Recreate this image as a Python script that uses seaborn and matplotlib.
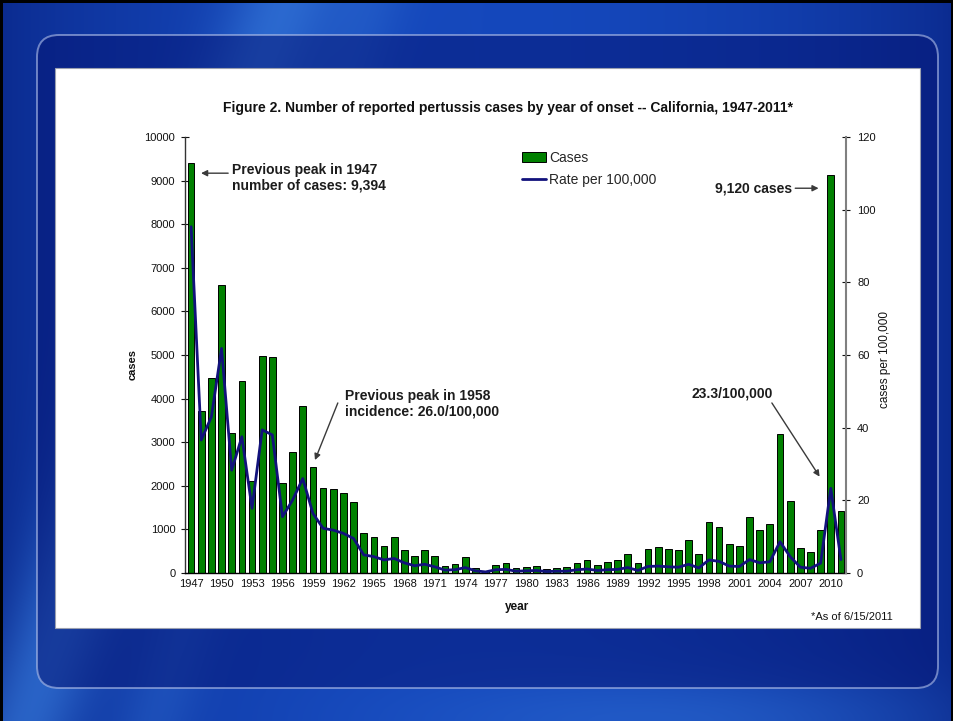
import numpy as np
import pandas as pd
import matplotlib
matplotlib.use("Agg")
import matplotlib.pyplot as plt
import seaborn as sns
from matplotlib.patches import FancyBboxPatch, Rectangle, Patch
from matplotlib.lines import Line2D
from matplotlib.colors import to_rgb

# ---- data -----------------------------------------------------------------
years = list(range(1947, 2012))
cases = [
    9394, 3720, 4480, 6600, 3200, 4400, 2100, 4970, 4950, 2060,   # 1947-1956
    2780, 3830, 2440, 1950, 1920, 1840, 1620, 910, 830, 630,      # 1957-1966
    830, 525, 380, 530, 385, 165, 200, 360, 115, 55,              # 1967-1976
    190, 230, 110, 145, 170, 85, 115, 140, 225, 300,              # 1977-1986
    188, 252, 300, 445, 222, 548, 604, 550, 520, 765,             # 1987-1996
    445, 1177, 1062, 657, 627, 1292, 986, 1124, 3188, 1651,       # 1997-2006
    581, 489, 986, 9120, 1430,                                    # 2007-2011
]
rate = [
    95.3, 36.6, 43.0, 61.8, 28.3, 37.5, 17.8, 39.4, 38.0, 15.5,
    20.1, 26.0, 16.4, 12.3, 11.8, 10.9, 9.5, 5.0, 4.5, 3.6,
    4.0, 2.8, 2.0, 2.4, 1.7, 0.8, 0.9, 1.5, 0.6, 0.3,
    0.9, 1.0, 0.5, 0.6, 0.7, 0.4, 0.5, 0.5, 0.9, 1.1,
    0.7, 0.9, 1.0, 1.5, 0.7, 1.8, 1.9, 1.7, 1.6, 2.4,
    1.4, 3.6, 3.2, 1.9, 1.8, 3.7, 2.8, 3.1, 8.6, 4.5,
    1.6, 1.3, 2.7, 23.3, 3.7,
]
year_ticks = list(range(1947, 2011, 3))
case_ticks = list(range(0, 10001, 1000))
rate_ticks = list(range(0, 121, 20))

df = pd.DataFrame({"year": years, "cases": cases, "rate": rate})

sns.set_theme(style="white")
plt.rcParams["font.family"] = ["Liberation Sans", "DejaVu Sans"]

W, H = 954, 721
fig = plt.figure(figsize=(W / 100, H / 100), dpi=100)

# ---- slide background --------------------------------------------------------
bg = fig.add_axes([0, 0, 1, 1])
bg.set_xlim(0, W)
bg.set_ylim(H, 0)
bg.axis("off")

yy, xx = np.mgrid[0:H, 0:W].astype(float)
dark = np.array(to_rgb("#0b2a8e"))
mid = np.array(to_rgb("#1548bc"))
light = np.array(to_rgb("#3578da"))
w_mid = np.sin(np.pi * xx / W) ** 0.7
base = dark + (mid - dark) * w_mid[..., None]
d1 = xx - (285 - 0.36 * yy)
d2 = xx - (370 - 0.30 * yy)
glow = (0.7 * np.exp(-(d1 / 55) ** 2) + 0.3 * np.exp(-(d2 / 40) ** 2)
        + 0.4 * np.exp(-((yy - H) / 45) ** 2) * np.exp(-((xx - 680) / 260) ** 2))
glow = np.clip(glow, 0, 1)[..., None]
img = base + (light - base) * glow
bg.imshow(img, extent=(0, W, H, 0), aspect="auto", zorder=0, interpolation="bilinear")

for r in [(0, 0, W, 3), (0, 0, 3, H), (W - 3, 0, 3, H)]:
    bg.add_patch(Rectangle(r[:2], r[2], r[3], fc="black", ec="none", zorder=1))

bg.add_patch(FancyBboxPatch((37, 35), 901, 653,
                            boxstyle="round,pad=0,rounding_size=22",
                            fc=(0.02, 0.08, 0.45, 0.5),
                            ec=(0.70, 0.76, 0.92, 0.6), lw=1.4, zorder=2))
bg.add_patch(Rectangle((55, 68), 865, 560, fc="white", ec="#9aa0b0", lw=0.8, zorder=3))

# ---- chart -------------------------------------------------------------------
ax = fig.add_axes([185 / W, (H - 573) / H, (846 - 185) / W, (573 - 137) / H])
ax.set_facecolor("white")
sns.barplot(data=df, x="year", y="cases", native_scale=True, color="#008000",
            saturation=1, edgecolor="black", linewidth=0.7, width=0.66, ax=ax)
ax.set_xlim(1946.4, 2011.5)
ax.set_ylim(0, 10000)
ax.set_xticks(year_ticks)
ax.set_xticklabels([str(y) for y in year_ticks])
ax.set_yticks(case_ticks)
ax.set_yticklabels([str(v) for v in case_ticks])
ax.tick_params(axis="x", length=0, pad=4, labelsize=8, colors="#111111")
ax.tick_params(axis="y", left=True, direction="inout", length=6, width=0.8,
               pad=4, labelsize=8, colors="#111111")
ax.set_xlabel("")
ax.set_ylabel("")
for s in ("top", "right"):
    ax.spines[s].set_visible(False)
ax.spines["left"].set_color("#333333")
ax.spines["bottom"].set_color("black")
ax.spines["left"].set_linewidth(1.0)
ax.spines["bottom"].set_linewidth(1.0)

ax2 = ax.twinx()
sns.lineplot(data=df, x="year", y="rate", ax=ax2, color="#12127c", lw=2)
ax2.set_ylim(0, 120)
ax2.set_xlim(1946.4, 2011.5)
ax2.set_yticks(rate_ticks)
ax2.set_yticklabels([str(v) for v in rate_ticks])
ax2.tick_params(axis="y", right=True, direction="inout", length=6, width=0.8,
                pad=5, labelsize=8, colors="#111111")
ax2.set_xlabel("")
ax2.set_ylabel("")
for s in ("top", "left", "bottom"):
    ax2.spines[s].set_visible(False)
ax2.spines["right"].set_color("#808080")
ax2.spines["right"].set_linewidth(1.5)

# ---- annotations -------------------------------------------------------------
txt_kw = dict(fontsize=10, fontweight="bold", color="#1c1c1c", zorder=6)
arr_kw = dict(arrowstyle="-|>", color="#3a3a3a", lw=1.0, mutation_scale=9,
              shrinkA=0, shrinkB=0)

ax.text(1951.05, 9060, "Previous peak in 1947\nnumber of cases: 9,394",
        ha="left", va="center", linespacing=1.15, **txt_kw)
ax.annotate("", xy=(1947.98, 9170), xytext=(1950.65, 9170), arrowprops=arr_kw)

ax.text(1962.15, 3880, "Previous peak in 1958\nincidence: 26.0/100,000",
        ha="left", va="center", linespacing=1.15, **txt_kw)
ax.annotate("", xy=(1959.2, 2590), xytext=(1961.45, 3900), arrowprops=arr_kw)

ax.text(2006.15, 8830, "9,120 cases", ha="right", va="center", **txt_kw)
ax.annotate("", xy=(2008.8, 8825), xytext=(2006.5, 8825), arrowprops=arr_kw)

ax.text(2000.25, 4110, "23.3/100,000", ha="center", va="center", **txt_kw)
ax.annotate("", xy=(2008.9, 2210), xytext=(2004.2, 3900), arrowprops=arr_kw)

# ---- legend, titles, labels -------------------------------------------------
handles = [Patch(fc="#008000", ec="black", lw=0.7),
           Line2D([], [], color="#12127c", lw=2)]
fig.legend(handles, ["Cases", "Rate per 100,000"], loc="upper left",
           bbox_to_anchor=(522 / W, 1 - 151 / H), frameon=False, fontsize=10,
           handlelength=1.7, handleheight=0.7, handletextpad=0.25,
           labelspacing=0.6, borderpad=0, borderaxespad=0)

fig.text(508 / W, 1 - 108 / H,
         "Figure 2. Number of reported pertussis cases by year of onset -- California, 1947-2011*",
         ha="center", va="center", fontsize=10, fontweight="bold", color="#111111")
fig.text(133 / W, 1 - 365 / H, "cases", rotation=90, ha="center", va="center",
         fontsize=8, fontweight="bold", color="#111111")
fig.text(885 / W, 1 - 360 / H, "cases per 100,000", rotation=90, ha="center",
         va="center", fontsize=8.5, color="#111111")
fig.text(517 / W, 1 - 607 / H, "year", ha="center", va="center", fontsize=8.5,
         fontweight="bold", color="#111111")
fig.text(893 / W, 1 - 617 / H, "*As of 6/15/2011", ha="right", va="center",
         fontsize=8, color="#111111")

fig.savefig("out.png", dpi=100)
